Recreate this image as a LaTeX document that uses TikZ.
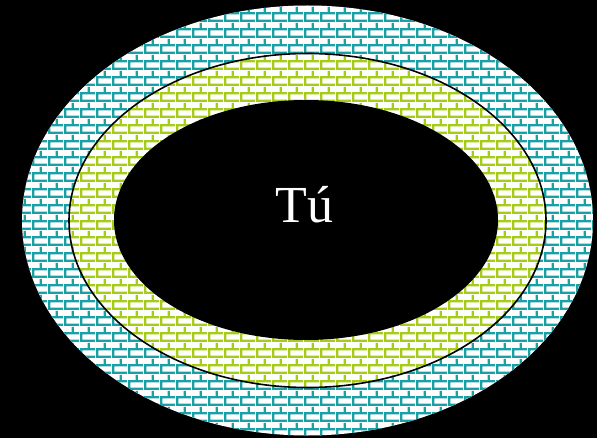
\documentclass[tikz,border=0pt]{standalone}
\usepackage{fontspec}
\setmainfont{Liberation Serif}
\usetikzlibrary{shapes.geometric,patterns}
\definecolor{brickTeal}{RGB}{26,160,164}
\definecolor{brickLime}{RGB}{164,204,24}
% brick wall, 16x8 bricks
\pgfdeclarepatternformonly{wallBricks}{\pgfpointorigin}{\pgfpoint{16pt}{16pt}}{\pgfpoint{16pt}{16pt}}{
	\pgfsetlinewidth{2.4pt}
	\pgfpathmoveto{\pgfpoint{0pt}{1.2pt}}\pgfpathlineto{\pgfpoint{16pt}{1.2pt}}
	\pgfpathmoveto{\pgfpoint{0pt}{9.2pt}}\pgfpathlineto{\pgfpoint{16pt}{9.2pt}}
	\pgfpathmoveto{\pgfpoint{1.2pt}{1.2pt}}\pgfpathlineto{\pgfpoint{1.2pt}{9.2pt}}
	\pgfpathmoveto{\pgfpoint{9.2pt}{9.2pt}}\pgfpathlineto{\pgfpoint{9.2pt}{16pt}}
	\pgfusepath{stroke}
}
\tikzset{
myRing/.style={
	ellipse, inner sep=0pt, preaction={fill=white}, pattern=wallBricks
}
, myHole/.style={
	ellipse, inner sep=0pt, fill=black
}
, myLabel/.style={
	text=white, inner sep=0pt, font=\fontsize{52}{60}\selectfont
}
}
\begin{document}
\begin{tikzpicture}[x=1pt,y=-1pt]
	% background
	\fill[black] (0,0) rectangle (597,438);
	\useasboundingbox (0,0) rectangle (597,438);
	\coordinate (centre) at (307.5,220.5);
	% rings
	\node[myRing, pattern color=brickTeal, minimum width=571pt, minimum height=430pt] (outer) at (centre) {};
	\node[myRing, pattern color=brickLime, draw=black, line width=1.6pt, minimum width=477pt, minimum height=334pt] (middle) at (centre) {};
	\node[myHole, minimum width=384pt, minimum height=240pt] (inner) at (306,220) {};
	% label
	\node[myLabel, anchor=base] (you) at (304.5,223) {Tú};
\end{tikzpicture}
\end{document}
